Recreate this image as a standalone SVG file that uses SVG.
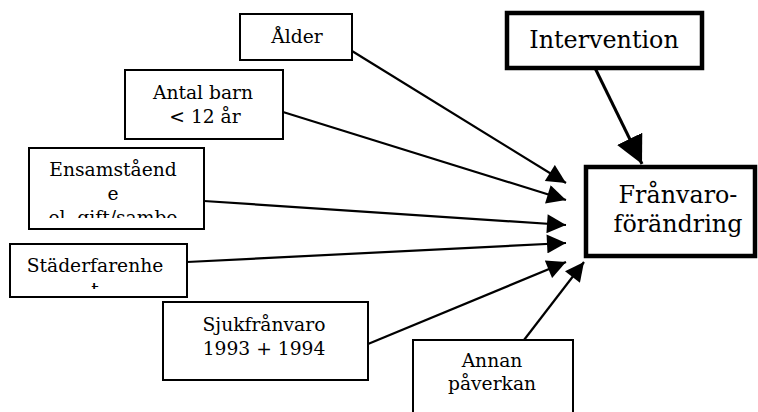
<svg xmlns="http://www.w3.org/2000/svg" width="758" height="412" viewBox="0 0 758 412">
<style>
.box{fill:#fff;stroke:#000;stroke-width:2}
.thick{fill:#fff;stroke:#000;stroke-width:4.5}
text{font-family:"DejaVu Serif","Liberation Serif",serif;fill:#000;text-anchor:middle}
.s{font-size:18.7px}
.l{font-size:23.8px}
.c{stroke:#000;stroke-width:2.2;fill:none}
</style>
<defs>
<marker id="ah" viewBox="0 0 10 10" refX="10" refY="5" markerUnits="userSpaceOnUse" markerWidth="21" markerHeight="19" orient="auto"><path d="M0,0 L10,5 L0,10 Z" fill="#000"/></marker>
<marker id="ahb" viewBox="0 0 10 10" refX="10" refY="5" markerUnits="userSpaceOnUse" markerWidth="28" markerHeight="28" orient="auto"><path d="M0,0 L10,5 L0,10 Z" fill="#000"/></marker>
<clipPath id="cE"><rect x="29" y="148" width="175" height="70"/></clipPath>
<clipPath id="cS"><rect x="10" y="244" width="177" height="45"/></clipPath>
</defs>
<g id="connectors">
<line class="c" x1="352" y1="51" x2="566" y2="183" marker-end="url(#ah)"/>
<line class="c" x1="283" y1="112" x2="566" y2="200" marker-end="url(#ah)"/>
<line class="c" x1="204" y1="201" x2="566" y2="225" marker-end="url(#ah)"/>
<line class="c" x1="187" y1="262" x2="566" y2="243" marker-end="url(#ah)"/>
<line class="c" x1="368" y1="344" x2="566" y2="262" marker-end="url(#ah)"/>
<line class="c" x1="524" y1="340" x2="584" y2="262" marker-end="url(#ah)"/>
<line class="c" style="stroke-width:3" x1="595" y1="68" x2="642" y2="164" marker-end="url(#ahb)"/>
</g>
<g id="alder"><rect class="box" x="240" y="14" width="112" height="46"/><text class="s" x="297" y="43">Ålder</text></g>
<g id="antal"><rect class="box" x="125" y="70" width="158" height="69"/><text class="s" x="203" y="99">Antal barn</text><text class="s" x="205" y="123">&lt; 12 år</text></g>
<g id="ensam"><rect class="box" x="29" y="148" width="175" height="81"/><g clip-path="url(#cE)"><text class="s" x="113" y="176">Ensamståend</text><text class="s" x="113" y="200">e</text><text class="s" x="113" y="224">el. gift/sambo</text></g></g>
<g id="stader"><rect class="box" x="10" y="244" width="177" height="53"/><g clip-path="url(#cS)"><text class="s" x="95" y="272">Städerfarenhe</text><text class="s" x="95" y="296">t</text></g></g>
<g id="sjuk"><rect class="box" x="163" y="302" width="205" height="78"/><text class="s" x="264" y="331">Sjukfrånvaro</text><text class="s" x="264" y="355">1993 + 1994</text></g>
<g id="annan"><rect class="box" x="413" y="340" width="160" height="80"/><text class="s" x="492" y="367">Annan</text><text class="s" x="492" y="390">påverkan</text></g>
<g id="intervention"><rect class="thick" x="507" y="13" width="195" height="55"/><text class="l" x="604" y="48">Intervention</text></g>
<g id="franvaro"><rect class="thick" x="586" y="167" width="169" height="89"/><text class="l" x="678" y="203">Frånvaro-</text><text class="l" x="678" y="232">förändring</text></g>
</svg>
